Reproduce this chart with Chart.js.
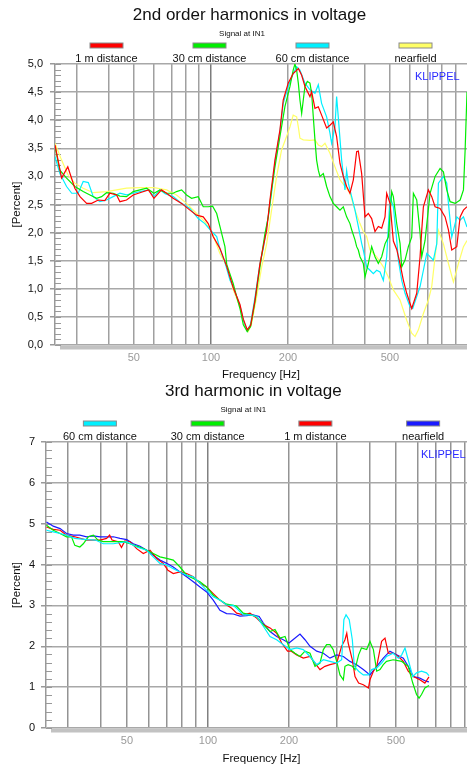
<!DOCTYPE html>
<html>
<head>
<meta charset="utf-8">
<script src="https://cdn.jsdelivr.net/npm/chart.js@4.4.1/dist/chart.umd.min.js"></script>
<style>
  html, body { margin: 0; padding: 0; background: #fff; overflow: hidden; }
  #wrap { position: relative; width: 467px; height: 770px; overflow: hidden; }
  canvas { position: absolute; left: 0; }
  #c1 { top: 0; }
  #c2 { top: 385px; }
</style>
</head>
<body>
<div id="wrap">
  <canvas id="c1" width="467" height="385"></canvas>
  <canvas id="c2" width="480" height="385"></canvas>
</div>
<script>
const FONT = '"Liberation Sans", Arial, sans-serif';

// vertical grid lines (Hz) and the ones that carry a label
const gridFreqs = [30, 40, 50, 60, 70, 80, 90, 100, 200, 300, 400, 500, 600, 700, 800, 900];
const labelledFreqs = [50, 100, 200, 500];

// ---- 2nd order harmonics, [frequency Hz, percent] ----
const h2Names = ['1 m distance', '30 cm distance', '60 cm distance', 'nearfield'];
const h2Colors = ['#ff0000', '#00ee00', '#00f0ff', '#ffff66'];

const h2_1m = [
  [24.6,3.56],[26.1,2.97],[27.6,3.17],[29.4,2.79],[30.8,2.64],[32.7,2.52],[34.2,2.52],[36.3,2.58],[38.5,2.57],
  [40.3,2.70],[42.8,2.67],[44.1,2.55],[46.8,2.58],[49.7,2.67],[52.8,2.71],[57.0,2.76],[59.9,2.61],[64.1,2.76],
  [67.1,2.70],[71.2,2.61],[76.8,2.52],[82.8,2.40],[87.9,2.31],[93.3,2.28],[97.6,2.16],[102,1.93],[108.4,1.72],
  [115.2,1.40],[122.2,1.02],[129.8,0.72],[133.8,0.46],[138.6,0.27],[142.9,0.35],[148.6,0.80],[155.4,1.45],
  [160.1,1.75],[165,2.04],[170,2.58],[177.8,3.29],[186,3.83],[191.6,4.36],[200.3,4.66],[209.5,4.83],[219.4,4.92],
  [226.1,4.80],[232.9,4.60],[243.6,4.42],[247.3,4.51],[254.8,4.21],[262.6,4.24],[270.5,4.09],[283,3.86],
  [291.6,3.91],[300.5,3.97],[309.6,3.71],[319.1,3.23],[328.8,3.00],[338.8,2.82],[349.1,2.70],[359.8,2.94],
  [370.7,3.44],[376.3,3.45],[387.8,3.05],[399.6,2.28],[411.7,2.34],[424.3,2.25],[437.2,2.02],[450.5,2.11],
  [464.3,2.08],[478.4,2.28],[485.7,2.70],[500.5,2.52],[515.7,1.85],[531.5,1.70],[547.6,1.45],[564.3,1.15],
  [581.5,0.92],[608.2,0.65],[636.3,0.92],[655.7,1.57],[665.6,2.04],[675.6,2.46],[706.7,2.76],[728.2,2.64],
  [750.5,2.46],[785,2.43],[821.2,2.28],[846.2,2.05],[872,1.69],[912.1,1.75],[940,2.28],[968.6,2.40],[1000,2.46]
];
const h2_30cm = [
  [24.6,3.53],[25.7,3.11],[27.3,2.97],[29.4,2.82],[31.7,2.73],[33.7,2.67],[35.8,2.61],[37.4,2.64],[39.1,2.71],
  [41.5,2.70],[44.1,2.65],[46.8,2.64],[49.7,2.73],[52.8,2.76],[56.1,2.79],[59.9,2.70],[63.2,2.76],[67.1,2.70],
  [71.2,2.70],[73.4,2.73],[76.8,2.76],[80.3,2.67],[84.0,2.61],[89.2,2.64],[93.3,2.46],[97.6,2.46],[101.5,2.47],
  [105.3,2.34],[108.4,2.11],[113.4,1.75],[115.2,1.44],[118.7,1.26],[122.2,1.09],[126,0.86],[129.8,0.65],
  [133.8,0.36],[138.6,0.24],[142.9,0.33],[148.6,0.77],[155.4,1.39],[162.5,1.98],[167.5,2.28],[172.5,2.76],
  [177.8,3.17],[186,3.71],[194.5,4.24],[203.5,4.60],[209.5,4.89],[212.8,5.00],[216.1,4.89],[219.4,4.66],
  [222.6,4.36],[226.1,4.12],[229.4,4.36],[232.9,4.60],[237.9,4.69],[243.6,4.66],[247.3,4.48],[251,4.06],
  [254.8,3.65],[258.6,3.29],[262.6,3.11],[266.5,3.00],[274.6,3.05],[278.8,2.94],[283,2.82],[291.6,2.64],
  [300.5,2.52],[309.6,2.46],[319.1,2.40],[328.8,2.46],[338.8,2.28],[349.1,2.16],[354.4,2.05],[365.2,1.87],
  [370.7,1.75],[376.3,1.69],[382,1.57],[393.6,1.45],[399.6,1.21],[411.7,1.45],[424.3,1.75],[437.2,1.57],
  [450.5,1.45],[464.3,1.57],[478.4,1.80],[493,1.92],[508.1,2.73],[515.7,2.64],[531.5,2.16],[547.6,1.81],
  [555.9,1.39],[572.8,1.51],[590.2,1.75],[608.2,1.92],[617.4,2.70],[636.3,2.58],[655.7,1.99],[665.6,1.57],
  [685.8,1.86],[717.4,2.70],[750.5,3.00],[785,3.14],[808.9,3.08],[833.6,2.76],[859,2.55],[898.6,2.52],
  [940,2.58],[968.6,2.76],[983.3,3.47],[1000,4.50]
];
const h2_60cm = [
  [24.6,3.35],[25.7,3.05],[27.3,2.82],[28.6,2.70],[30.3,2.70],[31.7,2.91],[33.2,2.89],[34.7,2.64],[36.8,2.55],
  [39.1,2.58],[41.5,2.64],[44.1,2.70],[46.8,2.67],[49.7,2.70],[52.8,2.73],[57.0,2.76],[59.9,2.64],[63.2,2.76],
  [66.2,2.69],[71.2,2.64],[76.8,2.52],[82.8,2.43],[89.2,2.25],[94.7,2.16],[100.6,2.02],[105.3,1.93],[108.4,1.71],
  [113.4,1.47],[118.7,1.15],[122.2,1.03],[129.8,0.70],[133.8,0.44],[138.6,0.25],[142.9,0.38],[148.6,0.85],
  [155.4,1.45],[160.1,1.72],[167.5,2.30],[172.5,2.70],[177.8,3.25],[186,3.80],[191.6,4.30],[200.3,4.60],
  [209.5,4.83],[216.1,4.95],[222.6,4.89],[232.9,4.66],[243.6,4.54],[254.8,4.48],[262.6,4.63],[270.5,4.30],
  [283,4.06],[291.6,3.77],[296,3.59],[305,3.88],[309.6,4.42],[314.2,4.06],[323.9,3.29],[333.8,2.76],
  [338.8,3.10],[343.9,2.88],[354.4,2.64],[365.2,2.40],[376.3,2.11],[387.8,1.81],[393.6,1.69],[405.6,1.39],
  [418,1.33],[430.7,1.27],[443.8,1.33],[457.4,1.30],[471.3,1.15],[485.7,1.57],[500.5,2.64],[515.7,2.46],
  [531.5,1.87],[539.5,1.51],[555.9,1.15],[572.8,0.92],[599.2,0.68],[613.6,0.65],[636.3,0.86],[655.7,1.04],
  [675.6,1.33],[696.2,1.63],[717.4,1.57],[739.2,1.51],[761.8,1.80],[773.3,2.88],[808.9,3.00],[833.6,2.88],
  [846.2,2.52],[872,1.92],[912.1,2.28],[940,2.22],[968.6,2.28],[1000,2.10]
];
const h2_near = [
  [24.6,3.59],[26.1,3.29],[27.7,3.02],[29.4,2.88],[31.7,2.79],[34.7,2.71],[39.1,2.73],[42.8,2.76],[46.8,2.79],
  [52.8,2.80],[59.9,2.80],[67.1,2.76],[73.4,2.67],[80.3,2.52],[87.9,2.34],[94.7,2.19],[100.6,2.02],[108.4,1.63],
  [115.2,1.40],[122.2,0.98],[129.8,0.68],[135.8,0.33],[139.9,0.24],[144.1,0.38],[150.9,0.86],[157.8,1.39],
  [165,1.80],[172.5,2.40],[180.5,3.00],[188.7,3.47],[197.4,3.71],[203.5,3.88],[209.5,4.09],[216.1,4.06],
  [219.4,3.88],[222.6,3.68],[229.4,3.65],[243.6,3.64],[254.8,3.65],[262.6,3.56],[270.5,3.53],[278.8,3.59],
  [291.6,3.41],[305,3.17],[319.1,2.94],[333.8,2.82],[349.1,2.70],[365.2,2.40],[382,2.16],[393.6,2.02],
  [405.6,1.93],[418,1.69],[443.8,1.57],[471.3,1.39],[493,1.21],[515.7,0.98],[547.6,0.80],[581.5,0.44],
  [608.2,0.21],[626.8,0.15],[645.9,0.27],[675.6,0.56],[706.7,0.80],[728.2,1.04],[750.5,1.57],[773.3,2.04],
  [808.9,1.80],[846.2,1.45],[885.1,1.12],[925.9,1.45],[968.6,1.75],[1000,1.86]
];

// ---- 3rd harmonic, [frequency Hz, percent] ----
const h3Names = ['60 cm distance', '30 cm distance', '1 m distance', 'nearfield'];
const h3Colors = ['#00f0ff', '#00ee00', '#ff0000', '#1a1aff'];

const h3_60cm = [
  [25.1,4.84],[26.6,4.80],[28.2,4.76],[29.8,4.72],[32.0,4.64],[35.4,4.61],[38.2,4.60],[40.8,4.51],[44.5,4.51],
  [49.9,4.56],[54.3,4.43],[59.2,4.35],[62.6,4.19],[66.3,4.03],[70.2,3.99],[74.3,3.90],[78.7,3.82],[83.3,3.74],
  [88.2,3.70],[93.4,3.54],[98.9,3.37],[104.6,3.21],[110.8,3.13],[117.3,3.01],[124.2,3.00],[127.8,2.93],
  [135.3,2.77],[143.3,2.77],[151.7,2.73],[160.6,2.49],[170.1,2.24],[180,2.16],[190.5,2.04],[201.8,1.92],
  [213.7,1.96],[226.1,1.92],[239.5,1.75],[253.6,1.55],[268.5,1.67],[284.1,1.63],[300.9,1.59],[314,1.67],
  [320,2.65],[326,2.77],[335,2.65],[344,2.16],[350,1.51],[363,1.39],[377.9,1.30],[395,1.30],[406,1.43],
  [423.8,1.47],[442,1.59],[461,1.75],[488,1.83],[510,1.71],[525,1.79],[540,1.96],[555,1.67],[577,1.26],
  [596,1.35],[622,1.39],[649,1.35],[663,1.28]
];
const h3_30cm = [
  [25.1,4.96],[26.6,4.84],[28.2,4.76],[29.8,4.68],[31.1,4.68],[32.0,4.47],[33.4,4.43],[34.4,4.51],[35.9,4.68],
  [37.5,4.72],[39.0,4.60],[40.8,4.56],[43.8,4.56],[48.4,4.56],[51.3,4.51],[54.3,4.45],[57.5,4.39],[62.6,4.27],
  [66.3,4.19],[70.2,4.15],[74.3,4.11],[78.7,3.94],[83.3,3.74],[88.2,3.66],[93.4,3.58],[98.9,3.45],[104.6,3.25],
  [110.8,3.13],[117.3,3.03],[124.2,3.00],[127.8,2.98],[135.3,2.81],[143.3,2.77],[151.7,2.73],[160.6,2.53],
  [170.1,2.36],[177.5,2.41],[185.3,2.20],[193.4,2.24],[201.8,1.92],[210.6,1.83],[219.8,1.75],[229.4,1.88],
  [239.5,1.83],[249.9,1.51],[260.8,1.59],[268.5,1.92],[276,2.04],[284.1,2.04],[292,1.92],[300.9,1.63],
  [309.5,1.30],[318.6,1.18],[323,1.51],[332,1.55],[344,1.51],[352,1.43],[363,1.79],[372,1.96],[389,1.92],
  [400,2.12],[412,1.92],[423.8,1.39],[436,1.43],[448.5,1.55],[461,1.63],[488,1.67],[525,1.63],[555,1.51],
  [577,1.10],[596,0.82],[609,0.73],[622,0.82],[640,0.98],[663,1.04]
];
const h3_1m = [
  [25.1,4.92],[26.6,4.86],[28.2,4.84],[29.8,4.72],[32.0,4.68],[35.4,4.60],[39.7,4.60],[42.0,4.64],[43.1,4.72],
  [44.0,4.60],[46.4,4.56],[47.7,4.42],[48.4,4.50],[49.1,4.58],[51.3,4.56],[54.3,4.39],[57.5,4.27],[60.9,4.35],
  [64.4,4.15],[68.2,4.03],[71.0,3.86],[74.3,3.78],[78.7,3.82],[83.3,3.78],[88.2,3.70],[93.4,3.54],[98.9,3.45],
  [104.6,3.29],[110.8,3.13],[117.3,3.01],[122.5,2.93],[127.8,2.81],[135.3,2.77],[143.3,2.81],[151.7,2.69],
  [160.6,2.53],[170.1,2.45],[180,2.32],[188,2.08],[197.6,1.88],[204,1.88],[213.7,1.79],[226.1,1.71],
  [239.5,1.75],[249.9,1.59],[260.8,1.43],[272.2,1.51],[284.1,1.55],[300.9,1.59],[314,2.00],[323,2.16],
  [328,2.32],[332,2.08],[344,1.67],[352,1.26],[363,1.10],[377.9,1.06],[395,0.98],[400,1.18],[412,1.39],
  [423.8,1.51],[442,2.12],[455,2.20],[468,1.83],[488,1.83],[510,1.75],[532.3,1.63],[555,1.39],[580,1.26],
  [613,1.18],[640,1.10],[663,1.25]
];
const h3_near = [
  [25.1,5.04],[26.6,4.94],[28.2,4.88],[29.8,4.76],[31.6,4.72],[33.4,4.72],[35.4,4.68],[37.5,4.70],[39.7,4.68],
  [42.0,4.68],[44.5,4.68],[47.1,4.64],[49.9,4.61],[52.8,4.51],[55.9,4.45],[59.2,4.35],[62.6,4.23],[66.3,4.11],
  [70.2,4.03],[74.3,3.94],[78.7,3.82],[83.3,3.70],[88.2,3.58],[93.4,3.45],[98.9,3.33],[104.6,3.13],[110.8,2.88],
  [117.3,2.80],[124.2,2.79],[131.5,2.74],[139,2.75],[147,2.77],[155,2.73],[160.6,2.57],[170.1,2.36],[180,2.24],
  [190.5,2.16],[200,2.08],[207,2.16],[219.8,2.30],[229.4,2.16],[239.5,2.00],[253.6,1.88],[268.5,1.83],
  [284.1,1.71],[300.9,1.79],[318.6,1.75],[337.1,1.63],[357,1.55],[377.9,1.43],[400,1.30],[423.8,1.51],
  [448.5,1.71],[474.6,1.88],[502.9,1.79],[532.3,1.71],[555,1.51],[580,1.26],[613,1.22],[649,1.14],[663,1.13]
];

// titles, legend row, KLIPPEL tag, minor ticks and the grey floor strip
const decorPlugin = {
  id: 'decor',
  beforeDatasetsDraw(chart, args, o) {
    const { ctx, chartArea: a } = chart;
    const y = chart.scales.y;
    ctx.save();
    // floor strip under the plot
    ctx.fillStyle = '#c2c2c2';
    ctx.fillRect(a.left + 5, a.bottom + 0.5, a.right - a.left, 4);
    // minor ticks on the inside of the value axis
    ctx.strokeStyle = '#999';
    ctx.lineWidth = 1;
    const n = Math.round((y.max - y.min) / o.minorStep);
    for (let i = 0; i <= n; i++) {
      const py = Math.round(y.getPixelForValue(y.min + i * o.minorStep)) + 0.5;
      ctx.beginPath();
      ctx.moveTo(a.left, py);
      ctx.lineTo(a.left + 6, py);
      ctx.stroke();
    }
    ctx.restore();
  },
  afterDraw(chart, args, o) {
    const { ctx, chartArea: a } = chart;
    ctx.save();
    ctx.fillStyle = '#111';
    ctx.textAlign = 'center';
    ctx.textBaseline = 'alphabetic';
    ctx.font = '17px ' + FONT;
    ctx.fillText(o.title, o.titleX, a.top + o.titleDy);
    ctx.font = '8px ' + FONT;
    ctx.fillText(o.subtitle, o.subX, a.top + o.subDy);

    // legend: colour bar above each name, spread over quarters of the plot
    const w = (a.right - a.left) / 4;
    chart.data.datasets.forEach((ds, i) => {
      const cx = a.left + (i + 0.5) * w;
      ctx.fillStyle = ds.borderColor;
      ctx.fillRect(cx - 16.5, a.top - 21, 33, 5);
      ctx.strokeStyle = '#8a8a8a';
      ctx.lineWidth = 1;
      ctx.strokeRect(cx - 16.5, a.top - 21, 33, 5);
      ctx.fillStyle = '#111';
      ctx.font = '11px ' + FONT;
      ctx.fillText(ds.label, cx, a.top - 2.5);
    });

    ctx.fillStyle = '#2a2aff';
    ctx.textAlign = 'left';
    ctx.font = '11px ' + FONT;
    ctx.fillText('KLIPPEL', a.right - o.tagDx, a.top + 15.5);
    ctx.restore();
  }
};

function makeChart(id, series, names, colors, opts) {
  const datasets = series.map((pts, i) => ({
    label: names[i],
    data: pts.map(p => ({ x: p[0], y: p[1] })),
    borderColor: colors[i],
    borderWidth: 1.2,
    pointRadius: 0,
    tension: 0,
    fill: false
  }));

  return new Chart(document.getElementById(id), {
    type: 'line',
    data: { datasets },
    plugins: [decorPlugin],
    options: {
      responsive: false,
      animation: false,
      devicePixelRatio: 1,
      layout: { padding: { top: opts.top, right: opts.right, left: 0, bottom: 0 } },
      plugins: {
        legend: { display: false },
        title: { display: false },
        tooltip: { enabled: false },
        decor: opts.decor
      },
      scales: {
        x: {
          type: 'logarithmic',
          min: opts.xMin,
          max: 1000,
          afterBuildTicks: s => { s.ticks = gridFreqs.map(v => ({ value: v })); },
          afterFit: s => { s.height = opts.xHeight; },
          ticks: {
            autoSkip: false,
            maxRotation: 0,
            padding: 6,
            color: '#9a9a9a',
            font: { family: FONT, size: 11 },
            callback: v => labelledFreqs.includes(v) ? String(v) : ''
          },
          grid: {
            drawTicks: false,
            lineWidth: 1.5,
            color: c => (c.tick && c.tick.value === 100) ? opts.grid100 : opts.gridV
          },
          border: { display: false },
          title: {
            display: true,
            text: 'Frequency [Hz]',
            color: '#111',
            font: { family: FONT, size: 11.5 },
            padding: { top: 0, bottom: opts.xTitlePad }
          }
        },
        y: {
          min: 0,
          max: opts.yMax,
          afterFit: s => { s.width = opts.yWidth; },
          ticks: {
            stepSize: opts.yStep,
            padding: opts.yPad,
            color: '#111',
            font: { family: FONT, size: 11 },
            callback: v => opts.yStep < 1 ? v.toFixed(1).replace('.', ',') : String(v)
          },
          grid: { tickLength: 5, lineWidth: 1.5, color: '#a8a8a8', tickColor: '#999' },
          border: { display: true, color: '#999', width: 1.5 },
          title: {
            display: true,
            text: '[Percent]',
            color: '#111',
            font: { family: FONT, size: 11.5 },
            padding: { top: 10, bottom: 0 }
          }
        }
      }
    }
  });
}

makeChart('c1', [h2_1m, h2_30cm, h2_60cm, h2_near], h2Names, h2Colors, {
  top: 64, right: 0, xMin: 24.6, xHeight: 40, xTitlePad: 3,
  yMax: 5, yStep: 0.5, yWidth: 55, yPad: 7,
  gridV: '#a0a0a0', grid100: '#7c7c7c',
  decor: {
    title: '2nd order harmonics in voltage', titleX: 249.5, titleDy: -44.5,
    subtitle: 'Signal at IN1', subX: 242, subDy: -27.7,
    tagDx: 52, minorStep: 0.1
  }
});

makeChart('c2', [h3_60cm, h3_30cm, h3_1m, h3_near], h3Names, h3Colors, {
  top: 57, right: 3, xMin: 25, xHeight: 42, xTitlePad: 4,
  yMax: 7, yStep: 1, yWidth: 46, yPad: 6,
  gridV: '#939393', grid100: '#808080',
  decor: {
    title: '3rd harmonic in voltage', titleX: 253.3, titleDy: -46,
    subtitle: 'Signal at IN1', subX: 243.3, subDy: -30.5,
    tagDx: 56, minorStep: 0.2
  }
});
</script>
</body>
</html>
